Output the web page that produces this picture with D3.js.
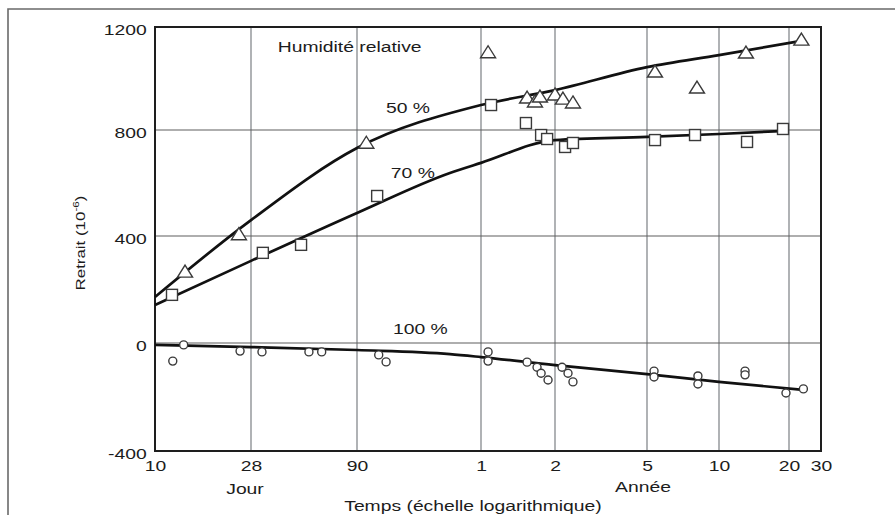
<!DOCTYPE html>
<html>
<head>
<meta charset="utf-8">
<script src="https://cdn.jsdelivr.net/npm/d3@7"></script>
<style>
  body { margin: 0; background: #fff; }
  svg { display: block; font-family: "Liberation Sans", Arial, sans-serif; }
</style>
</head>
<body>
<div id="chart"></div>
<script>
// time is in days, shrinkage (retrait) in 10^-6
var xTickDays = [10, 28, 90, 365, 730, 1825, 3650, 7300, 10950];
var xTickLabels = ["10", "28", "90", "1", "2", "5", "10", "20", "30"];
var yTicks = [-400, 0, 400, 800, 1200];

// 50 % relative humidity (triangles)
var hr50Days = [13.8, 24.6, 100, 390, 562, 605, 634, 730, 790, 873, 1971, 2953, 4767, 8540];
var hr50Vals = [265, 405, 750, 1100, 924, 909, 928, 936, 920, 905, 1025, 963, 1099, 1149];
var fit50Days = [10, 28, 90, 365, 730, 1825, 3650, 8540];
var fit50Vals = [172, 460, 732, 897, 955, 1044, 1091, 1146];

// 70 % relative humidity (squares)
var hr70Days = [12, 31.9, 48.6, 113, 401, 556, 641, 678, 807, 873, 1971, 2898, 4818, 6880];
var hr70Vals = [180, 337, 367, 551, 897, 827, 781, 766, 736, 751, 762, 781, 755, 804];
var fit70Days = [10, 28, 90, 257, 365, 730, 1825, 3650, 6680];
var fit70Vals = [142, 307, 487, 638, 676, 762, 774, 785, 796];

// 100 % relative humidity (circles)
var hr100Days = [12.1, 13.6, 24.9, 31.6, 53, 61, 115, 125, 390, 390, 562, 617, 641, 684, 783, 831, 873,
                 1953, 1953, 2980, 2980, 4724, 4724, 7085, 8760];
var hr100Vals = [-67, -7, -30, -33, -33, -33, -44, -70, -33, -67, -71, -90, -112, -137, -90, -112, -144,
                 -104, -126, -122, -152, -104, -118, -185, -170];
var fit100Days = [10, 28, 90, 257, 365, 730, 1825, 3650, 8760];
var fit100Vals = [-7, -15, -26, -41, -52, -82, -115, -144, -174];

var curveNames = ["50 %", "70 %", "100 %"];
var curveNameDays = [160, 169, 184];
var curveNameVals = [885, 638, 52];

document.addEventListener("DOMContentLoaded", function() {
    var w = 895;
    var h = 515;
    var sx = 1.38; // the lettering of the figure is wide

    var svg = d3.select("#chart")
                .append("svg")
                .attr("width", w)
                .attr("height", h);

    // the scanned axis is not quite even, so each decade gets its own piece
    var x = d3.scaleLog()
              .domain(xTickDays)
              .range([155, 251, 357, 481, 555, 647, 719, 789, 821]);
    var y = d3.scaleLinear()
              .domain(yTicks)
              .range([451, 343, 236, 130, 27]);

    function zip(a, b) {
        return a.map(function(d, i) { return [d, b[i]]; });
    }

    function label(parent, px, py, txt, size) {
        return parent.append("text")
            .attr("transform", "translate(" + px + "," + py + ") scale(" + sx + ",1)")
            .attr("text-anchor", "middle")
            .attr("dy", "0.35em")
            .attr("font-size", size || 14)
            .attr("fill", "#1c1c1c")
            .text(txt);
    }

    // outer frame of the figure
    svg.append("path")
       .attr("d", "M8," + h + "V9H" + w)
       .attr("fill", "none")
       .attr("stroke", "#6a6a6a")
       .attr("stroke-width", 1.6);

    // grid
    svg.selectAll("line.vgrid")
       .data(xTickDays.slice(1, -1))
       .enter()
       .append("line")
       .attr("class", "vgrid")
       .attr("x1", function(d) { return x(d); })
       .attr("x2", function(d) { return x(d); })
       .attr("y1", y(1200))
       .attr("y2", y(-400))
       .attr("stroke", "#6f7478")
       .attr("stroke-width", 1.1);

    svg.selectAll("line.hgrid")
       .data(yTicks.slice(1, -1))
       .enter()
       .append("line")
       .attr("class", "hgrid")
       .attr("x1", x(10))
       .attr("x2", x(10950))
       .attr("y1", function(d) { return y(d); })
       .attr("y2", function(d) { return y(d); })
       .attr("stroke", "#5e5e5e")
       .attr("stroke-width", 1.1);

    // plot frame
    svg.append("rect")
       .attr("x", x(10))
       .attr("y", y(1200))
       .attr("width", x(10950) - x(10))
       .attr("height", y(-400) - y(1200))
       .attr("fill", "none")
       .attr("stroke", "#1e1e1e")
       .attr("stroke-width", 2);

    // axes
    var xAxis = svg.append("g")
       .attr("transform", "translate(0," + y(-400) + ")")
       .call(d3.axisBottom(x)
               .tickValues(xTickDays)
               .tickFormat(function(d, i) { return xTickLabels[i]; })
               .tickSize(0)
               .tickPadding(10));
    xAxis.select(".domain").remove();
    xAxis.selectAll("text")
         .attr("transform", "scale(" + sx + ",1)")
         .attr("font-size", 14)
         .attr("font-family", "Liberation Sans, Arial, sans-serif")
         .attr("fill", "#1c1c1c");

    var yAxis = svg.append("g")
       .attr("transform", "translate(" + x(10) + ",0)")
       .call(d3.axisLeft(y)
               .tickValues(yTicks)
               .tickFormat(function(d) { return String(d); })
               .tickSize(0)
               .tickPadding(6));
    yAxis.select(".domain").remove();
    yAxis.selectAll("text")
         .attr("transform", "scale(" + sx + ",1)")
         .attr("dy", "0.52em")
         .attr("font-size", 14)
         .attr("font-family", "Liberation Sans, Arial, sans-serif")
         .attr("fill", "#1c1c1c");

    // fitted curves
    var line = d3.line()
                 .x(function(d) { return x(d[0]); })
                 .y(function(d) { return y(d[1]); })
                 .curve(d3.curveMonotoneX);

    [zip(fit50Days, fit50Vals), zip(fit70Days, fit70Vals), zip(fit100Days, fit100Vals)]
        .forEach(function(pts) {
            svg.append("path")
               .attr("d", line(pts))
               .attr("fill", "none")
               .attr("stroke", "#111")
               .attr("stroke-width", 2.7);
        });

    // markers
    var mk = { fill: "#fff", stroke: "#3a3a3a", width: 1.4 };

    svg.selectAll("path.tri")
       .data(zip(hr50Days, hr50Vals))
       .enter()
       .append("path")
       .attr("class", "tri")
       .attr("transform", function(d) { return "translate(" + x(d[0]) + "," + y(d[1]) + ")"; })
       .attr("d", "M0,-7L7.5,5L-7.5,5Z")
       .attr("fill", mk.fill)
       .attr("stroke", mk.stroke)
       .attr("stroke-width", mk.width);

    svg.selectAll("rect.sq")
       .data(zip(hr70Days, hr70Vals))
       .enter()
       .append("rect")
       .attr("class", "sq")
       .attr("x", function(d) { return x(d[0]) - 5.5; })
       .attr("y", function(d) { return y(d[1]) - 5.5; })
       .attr("width", 11)
       .attr("height", 11)
       .attr("fill", mk.fill)
       .attr("stroke", mk.stroke)
       .attr("stroke-width", mk.width);

    svg.selectAll("circle.ci")
       .data(zip(hr100Days, hr100Vals))
       .enter()
       .append("circle")
       .attr("class", "ci")
       .attr("cx", function(d) { return x(d[0]); })
       .attr("cy", function(d) { return y(d[1]); })
       .attr("r", 4)
       .attr("fill", mk.fill)
       .attr("stroke", mk.stroke)
       .attr("stroke-width", mk.width);

    // texts
    label(svg, x(83), y(1122), "Humidité relative", 14);
    curveNames.forEach(function(n, i) {
        label(svg, x(curveNameDays[i]), y(curveNameVals[i]), n, 14);
    });

    label(svg, 245, 489, "Jour", 14);
    label(svg, 643, 487, "Année", 14);
    label(svg, 473, 506, "Temps (échelle logarithmique)", 14);

    var yl = svg.append("text")
       .attr("transform", "translate(80,243) rotate(-90) scale(1.3,1)")
       .attr("text-anchor", "middle")
       .attr("dy", "0.35em")
       .attr("font-size", 13)
       .attr("fill", "#1c1c1c")
       .text("Retrait (10");
    yl.append("tspan")
      .attr("font-size", 9)
      .attr("dy", "-0.6em")
      .text("-6");
    yl.append("tspan")
      .attr("dy", "0.4em")
      .text(")");
});
</script>
</body>
</html>
